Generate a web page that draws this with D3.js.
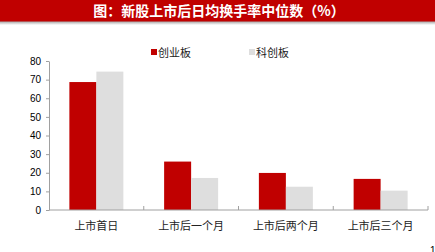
<!DOCTYPE html>
<html>
<head>
<meta charset="utf-8">
<script src="https://cdn.jsdelivr.net/npm/d3@7"></script>
<style>
  body { margin: 0; background: #fff; }
  svg { display: block; font-family: "Liberation Sans", Arial, sans-serif; }
  .cjk { font-family: "Noto Sans CJK SC", sans-serif; }
</style>
</head>
<body>
<script>
// data
var categories = ["上市首日", "上市后一个月", "上市后两个月", "上市后三个月"];
var seriesNames = ["创业板", "科创板"];
var chinext = [68.7, 26.0, 19.9, 16.7];
var star = [74.3, 17.2, 12.5, 10.4];
var yTicks = [0, 10, 20, 30, 40, 50, 60, 70, 80];
var colors = ["#c00000", "#dedede"];

var W = 435, H = 252;
var margin = { top: 61, left: 49, right: 7, bottom: 42 };

var svg = d3.select("body").append("svg")
  .attr("width", W)
  .attr("height", H);

// title bar with a soft shadow underneath
var defs = svg.append("defs");
var grad = defs.append("linearGradient").attr("id", "shadow")
  .attr("x1", 0).attr("y1", 0).attr("x2", 0).attr("y2", 1);
grad.append("stop").attr("offset", "0%").attr("stop-color", "#9a9a9a");
grad.append("stop").attr("offset", "100%").attr("stop-color", "#ffffff");
svg.append("rect").attr("x", 0).attr("y", 21).attr("width", W).attr("height", 4)
  .attr("fill", "url(#shadow)");
svg.append("rect").attr("x", 0).attr("y", 0).attr("width", W).attr("height", 21.5)
  .attr("fill", "#c00000");
svg.append("text")
  .attr("class", "cjk")
  .attr("x", 219).attr("y", 16)
  .attr("text-anchor", "middle")
  .attr("font-size", 14)
  .attr("font-weight", "bold")
  .attr("fill", "#fff")
  .text("图：新股上市后日均换手率中位数（%）");

var x0 = d3.scaleBand()
  .domain(categories)
  .range([margin.left, W - margin.right]);

var x1 = d3.scaleBand()
  .domain([0, 1])
  .range([0, 54]);

var y = d3.scaleLinear()
  .domain([0, 80])
  .range([H - margin.bottom, margin.top]);

// bars
var groups = svg.append("g").selectAll("g")
  .data(categories)
  .enter().append("g")
  .attr("transform", function (d) {
    return "translate(" + (x0(d) + x0.bandwidth() / 2 - 27) + ",0)";
  });

groups.selectAll("rect")
  .data(function (d, i) { return [chinext[i], star[i]]; })
  .enter().append("rect")
  .attr("x", function (d, j) { return x1(j); })
  .attr("y", function (d) { return y(d); })
  .attr("width", x1.bandwidth())
  .attr("height", function (d) { return y(0) - y(d); })
  .attr("fill", function (d, j) { return colors[j]; });

// y axis
var yAxis = svg.append("g")
  .attr("transform", "translate(" + margin.left + ",0)")
  .call(d3.axisLeft(y).tickValues(yTicks).tickSize(3).tickSizeOuter(0).tickPadding(5));
yAxis.selectAll("text").attr("font-size", 10).attr("fill", "#000")
  .attr("font-family", "Liberation Sans, Arial, sans-serif");
yAxis.selectAll("line").attr("stroke", "#a0a0a0");
yAxis.select(".domain").attr("stroke", "#a0a0a0");

// x axis: ticks sit between the categories
var xAxis = svg.append("g")
  .attr("transform", "translate(0," + y(0) + ")");
xAxis.append("line")
  .attr("x1", margin.left).attr("x2", W - margin.right)
  .attr("stroke", "#a0a0a0");
xAxis.selectAll(".sep")
  .data(categories)
  .enter().append("line")
  .attr("x1", function (d) { return x0(d) + x0.bandwidth(); })
  .attr("x2", function (d) { return x0(d) + x0.bandwidth(); })
  .attr("y1", 0).attr("y2", -4)
  .attr("stroke", "#a0a0a0");
xAxis.selectAll(".lab")
  .data(categories)
  .enter().append("text")
  .attr("class", "cjk")
  .attr("x", function (d) { return x0(d) + x0.bandwidth() / 2; })
  .attr("y", 19.5)
  .attr("text-anchor", "middle")
  .attr("font-size", 11)
  .attr("fill", "#222")
  .text(function (d) { return d; });

// legend
var legendX = [151, 249];
var legend = svg.append("g").selectAll("g")
  .data(seriesNames)
  .enter().append("g")
  .attr("transform", function (d, i) { return "translate(" + legendX[i] + ",49)"; });
legend.append("rect")
  .attr("width", 6).attr("height", 6)
  .attr("fill", function (d, i) { return colors[i]; });
legend.append("text")
  .attr("class", "cjk")
  .attr("x", 7).attr("y", 7.5)
  .attr("font-size", 11)
  .attr("fill", "#222")
  .text(function (d) { return d; });

// page number peeking in at the corner
svg.append("text")
  .attr("x", 430).attr("y", 254)
  .attr("font-size", 10)
  .attr("fill", "#000")
  .text("1");
</script>
</body>
</html>
